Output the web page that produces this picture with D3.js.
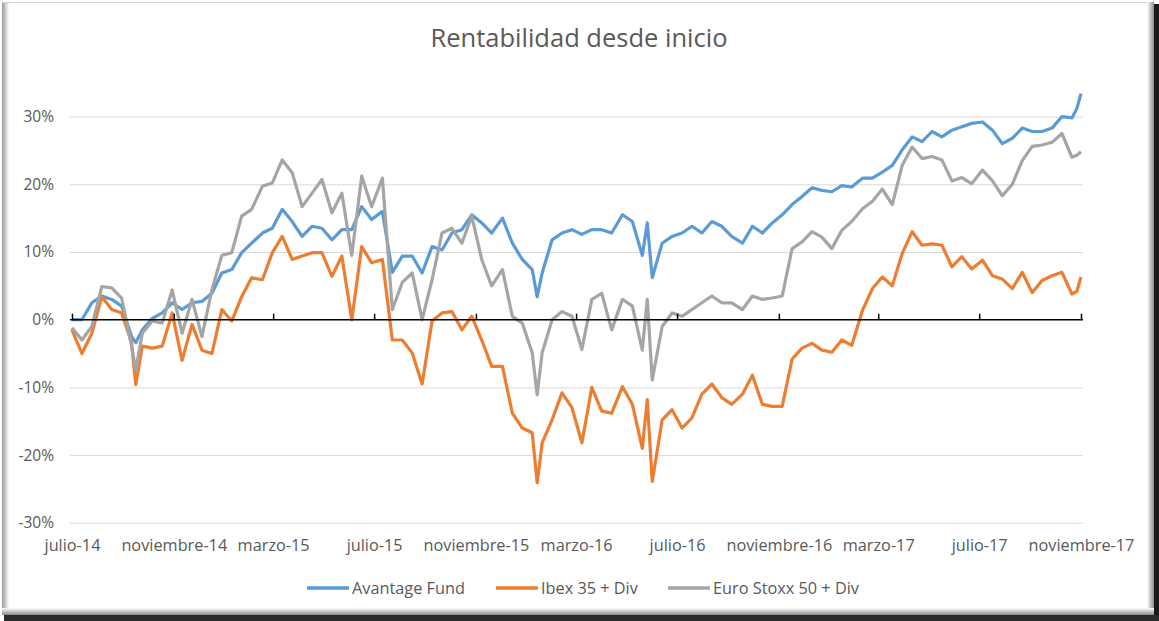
<!DOCTYPE html>
<html>
<head>
<meta charset="utf-8">
<script src="https://cdn.jsdelivr.net/npm/d3@7"></script>
<style>
body { margin: 0; background: #fff; }
svg text { font-family: "Open Sans", "Noto Sans", sans-serif; fill: #595959; }
</style>
</head>
<body>
<svg id="main" width="1159" height="621"></svg>
<script>
// data (returns since start, %)
var dates = ["2014-07-01","2014-07-13","2014-07-25","2014-08-06","2014-08-18","2014-08-30","2014-09-11","2014-09-16","2014-09-24","2014-10-06",
  "2014-10-18","2014-10-30","2014-11-11","2014-11-23","2014-12-05","2014-12-17","2014-12-29","2015-01-10","2015-01-22","2015-02-03",
  "2015-02-16","2015-02-28","2015-03-12","2015-03-24","2015-04-05","2015-04-17","2015-04-29","2015-05-11","2015-05-23","2015-06-04",
  "2015-06-16","2015-06-28","2015-07-11","2015-07-23","2015-08-04","2015-08-16","2015-08-28","2015-09-09","2015-09-21","2015-10-03",
  "2015-10-15","2015-10-27","2015-11-08","2015-11-20","2015-12-03","2015-12-15","2015-12-27","2016-01-08","2016-01-14","2016-01-20",
  "2016-02-01","2016-02-13","2016-02-25","2016-03-08","2016-03-20","2016-04-01","2016-04-13","2016-04-26","2016-05-08","2016-05-20",
  "2016-05-26","2016-06-01","2016-06-13","2016-06-25","2016-07-07","2016-07-19","2016-07-31","2016-08-12","2016-08-24","2016-09-05",
  "2016-09-18","2016-09-30","2016-10-12","2016-10-24","2016-11-05","2016-11-17","2016-11-29","2016-12-11","2016-12-23","2017-01-04",
  "2017-01-16","2017-01-28","2017-02-10","2017-02-22","2017-03-06","2017-03-18","2017-03-30","2017-04-11","2017-04-23","2017-05-05",
  "2017-05-17","2017-05-29","2017-06-10","2017-06-22","2017-07-05","2017-07-17","2017-07-29","2017-08-10","2017-08-22","2017-09-03",
  "2017-09-15","2017-09-27","2017-10-09","2017-10-21","2017-10-27","2017-11-01"];
var avantage = [0, 0, 2.5, 3.5, 3.0, 2.0, -2.5, -3.4, -1.5, 0.2,
  1.0, 2.5, 1.5, 2.5, 2.7, 3.9, 6.9, 7.4, 9.9, 11.3,
  12.8, 13.5, 16.3, 14.5, 12.3, 13.8, 13.5, 11.8, 13.3, 13.3,
  16.7, 14.8, 16.0, 7.0, 9.4, 9.4, 6.9, 10.8, 10.3, 12.8,
  13.3, 15.5, 14.3, 12.8, 15.0, 11.3, 8.9, 7.4, 3.4, 6.9,
  11.8, 12.8, 13.3, 12.6, 13.3, 13.3, 12.8, 15.5, 14.5, 9.5,
  14.3, 6.2, 11.3, 12.3, 12.8, 13.8, 12.8, 14.5, 13.8, 12.3,
  11.3, 13.8, 12.8, 14.3, 15.5, 17.0, 18.2, 19.5, 19.1, 18.9,
  19.8, 19.6, 20.9, 20.9, 21.8, 22.8, 25.1, 27.0, 26.3, 27.8,
  27.0, 28.0, 28.5, 29.0, 29.2, 28.0, 26.0, 26.8, 28.3, 27.8,
  27.8, 28.3, 30.0, 29.8, 31.2, 33.4];
var ibex = [-1.5, -5.0, -2.0, 3.4, 1.5, 1.0, -3.4, -9.6, -3.9, -4.2,
  -3.9, 1.0, -6.0, -0.7, -4.5, -5.0, 1.5, -0.2, 3.4, 6.2,
  5.9, 9.9, 12.3, 8.9, 9.4, 9.9, 9.9, 6.4, 9.4, 0.0,
  10.8, 8.4, 8.9, -3.0, -3.0, -4.9, -9.5, -0.2, 1.0, 1.2,
  -1.5, 0.5, -3.0, -6.9, -6.9, -13.8, -16.0, -16.7, -24.1, -18.2,
  -14.8, -10.8, -13.0, -18.2, -10.0, -13.5, -13.8, -9.9, -12.5, -19.0,
  -11.8, -23.9, -14.8, -13.3, -16.0, -14.5, -11.0, -9.5, -11.5, -12.5,
  -11.0, -8.2, -12.5, -12.8, -12.8, -5.8, -4.2, -3.5, -4.5, -4.8,
  -3.0, -3.8, 1.4, 4.6, 6.3, 5.0, 9.8, 13.0, 11.0, 11.2,
  11.0, 7.8, 9.3, 7.5, 8.8, 6.5, 6.0, 4.6, 7.0, 4.0,
  5.8, 6.5, 7.0, 3.8, 4.2, 6.3];
var stoxx = [-1.2, -3.0, -1.0, 4.9, 4.7, 3.2, -3.9, -7.4, -2.0, -0.2,
  -0.5, 4.4, -2.0, 3.0, -2.5, 4.4, 9.5, 9.9, 15.3, 16.3,
  19.7, 20.2, 23.6, 21.7, 16.7, 18.7, 20.7, 15.8, 18.7, 9.5,
  21.2, 16.7, 20.9, 1.5, 5.5, 6.9, 0.0, 5.9, 12.8, 13.5,
  11.3, 15.3, 8.9, 5.0, 7.4, 0.5, -0.5, -4.9, -11.1, -4.9,
  0.0, 1.2, 0.5, -4.4, 3.0, 3.9, -1.5, 3.0, 2.0, -4.5,
  3.0, -8.9, -1.0, 1.0, 0.5, 1.5, 2.5, 3.5, 2.5, 2.5,
  1.5, 3.5, 3.0, 3.2, 3.5, 10.5, 11.5, 13.0, 12.2, 10.5,
  13.2, 14.5, 16.4, 17.5, 19.3, 17.0, 22.8, 25.5, 23.8, 24.1,
  23.6, 20.5, 21.0, 20.1, 22.1, 20.5, 18.3, 20.0, 23.5, 25.6,
  25.8, 26.2, 27.5, 24.0, 24.3, 24.8];
var seriesNames = ["Avantage Fund", "Ibex 35 + Div", "Euro Stoxx 50 + Div"];
var seriesColors = ["#5B9BD5", "#ED7D31", "#A5A5A5"];
var tickDates = ["2014-07-01","2014-11-01","2015-03-01","2015-07-01","2015-11-01","2016-03-01",
  "2016-07-01","2016-11-01","2017-03-01","2017-07-01","2017-11-01"];
var tickLabels = ["julio-14","noviembre-14","marzo-15","julio-15","noviembre-15","marzo-16",
  "julio-16","noviembre-16","marzo-17","julio-17","noviembre-17"];
var yTicks = [-30, -20, -10, 0, 10, 20, 30];

var W = 1159, H = 621;
var font = '"Open Sans", "Noto Sans", sans-serif';
var parse = d3.timeParse("%Y-%m-%d");
var svg = d3.select("#main");
var defs = svg.append("defs");

// frame with Excel style shadow
svg.append("rect").attr("width", W).attr("height", H).attr("fill", "#ffffff");
function grad(id, x1, y1, x2, y2, c1, c2) {
	var g = defs.append("linearGradient").attr("id", id).attr("x1", x1).attr("y1", y1).attr("x2", x2).attr("y2", y2);
	g.append("stop").attr("offset", "0").attr("stop-color", c1);
	g.append("stop").attr("offset", "1").attr("stop-color", c2);
}
grad("gl", 0, 0, 1, 0, "#9a9a9a", "#ffffff");
grad("gr", 0, 0, 1, 0, "#ffffff", "#8a8a8a");
grad("gb", 0, 0, 0, 1, "#ffffff", "#8a8a8a");
svg.append("rect").attr("x", 2).attr("y", 2).attr("width", 7).attr("height", 612).attr("fill", "url(#gl)");
svg.append("rect").attr("x", 2).attr("y", 2).attr("width", 1148).attr("height", 1).attr("fill", "#d0d0d0");
svg.append("rect").attr("x", 1147).attr("y", 2).attr("width", 7).attr("height", 613).attr("fill", "url(#gr)");
svg.append("rect").attr("x", 2).attr("y", 608).attr("width", 1152).attr("height", 7).attr("fill", "url(#gb)");
svg.append("rect").attr("x", 1154).attr("y", 4).attr("width", 5).attr("height", 617).attr("fill", "#1a1a1a");
svg.append("rect").attr("x", 4).attr("y", 615).attr("width", 1155).attr("height", 6).attr("fill", "#2a2a2a");

// title
svg.append("text").attr("x", 579).attr("y", 47).attr("text-anchor", "middle")
	.style("font-size", "25.5px").text("Rentabilidad desde inicio");

var x = d3.scaleTime().domain([parse(tickDates[0]), parse(tickDates[tickDates.length - 1])]).range([72, 1081]);
var y = d3.scaleLinear().domain([-30, 30]).range([522.8, 116.6]);

// gridlines
svg.append("g").attr("transform", "translate(70,0)")
	.call(d3.axisLeft(y).tickValues(yTicks.filter(function(d) { return d != 0; })).tickSize(-1013).tickFormat(""))
	.call(function(g) {
		g.select(".domain").remove();
		g.selectAll("line").attr("stroke", "#d9d9d9").attr("stroke-width", 1);
	});

// y labels
svg.append("g").attr("transform", "translate(57,0)")
	.call(d3.axisLeft(y).tickValues(yTicks).tickSize(0).tickFormat(function(d) { return d + "%"; }))
	.call(function(g) {
		g.select(".domain").remove();
		g.selectAll("text").attr("fill", "#595959").style("font-size", "15.5px").style("font-family", font);
	});

// series
var line = d3.line().x(function(d) { return x(d.date); }).y(function(d) { return y(d.v); });
[avantage, ibex, stoxx].forEach(function(vals, i) {
	var pts = vals.map(function(v, j) { return {date: parse(dates[j]), v: v}; });
	svg.append("path").datum(pts).attr("d", line).attr("fill", "none")
		.attr("stroke", seriesColors[i]).attr("stroke-width", 3.2).attr("stroke-linejoin", "round");
});

// zero axis with ticks
svg.append("g").attr("transform", "translate(0," + y(0) + ")")
	.call(d3.axisBottom(x).tickValues(tickDates.map(parse)).tickSize(-6).tickSizeOuter(0).tickFormat(""))
	.call(function(g) {
		g.select(".domain").attr("stroke", "#000").attr("stroke-width", 1.5).attr("d", "M70,0H1083");
		g.selectAll("line").attr("stroke", "#000").attr("stroke-width", 1.5);
	});

// x labels
svg.append("g").attr("transform", "translate(0,536)")
	.call(d3.axisBottom(x).tickValues(tickDates.map(parse)).tickSize(0)
		.tickFormat(function(d, i) { return tickLabels[i]; }))
	.call(function(g) {
		g.select(".domain").remove();
		g.selectAll("text").attr("fill", "#595959").style("font-size", "16.3px").style("font-family", font);
	});

// legend
var legX = [307, 496, 668];
seriesNames.forEach(function(n, i) {
	svg.append("line").attr("x1", legX[i]).attr("x2", legX[i] + 42).attr("y1", 588).attr("y2", 588)
		.attr("stroke", seriesColors[i]).attr("stroke-width", 3.5);
	svg.append("text").attr("x", legX[i] + 45).attr("y", 588).attr("dy", "0.35em")
		.style("font-size", "16.3px").text(n);
});
</script>
</body>
</html>
